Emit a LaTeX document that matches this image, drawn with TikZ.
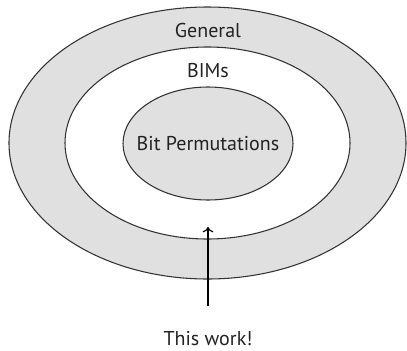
\documentclass[tikz,border=0pt]{standalone}
\usepackage{fontspec}
\setmainfont{PT Sans}
\usetikzlibrary{arrows.meta,shapes.geometric}
\definecolor{ringfill}{HTML}{E0E0E0}
\definecolor{linec}{HTML}{333333}
\definecolor{txt}{HTML}{222222}
\tikzset{
  ring/.style={draw=linec, line width=0.8pt, shape=ellipse, inner sep=0pt},
  lbl/.style={text=txt, font=\fontsize{15}{17}\selectfont, inner sep=0pt},
}
\begin{document}
\begin{tikzpicture}[x=0.75pt,y=-0.75pt]
\useasboundingbox (0,0) rectangle (407,350);
\node[ring, fill=ringfill, minimum width=297.75pt, minimum height=204pt] (outer) at (207.5,143) {};
\node[ring, fill=white, minimum width=213.75pt, minimum height=144pt] (mid) at (207.5,143) {};
\node[ring, fill=ringfill, minimum width=127.5pt, minimum height=84.75pt] (inner) at (208,143.5) {};
\node[lbl] (gen) at (208,30) {General};
\node[lbl] (bims) at (208,71) {BIMs};
\node[lbl] (bp) at (208,144) {Bit Permutations};
\node[lbl, anchor=base] (work) at (208,345) {This work!};
\coordinate (tail) at (208,306);
\coordinate (head) at (208,227);
\draw[line width=0.9pt, -{To[length=4pt,width=8pt]}] (tail) -- (head);
\end{tikzpicture}
\end{document}
